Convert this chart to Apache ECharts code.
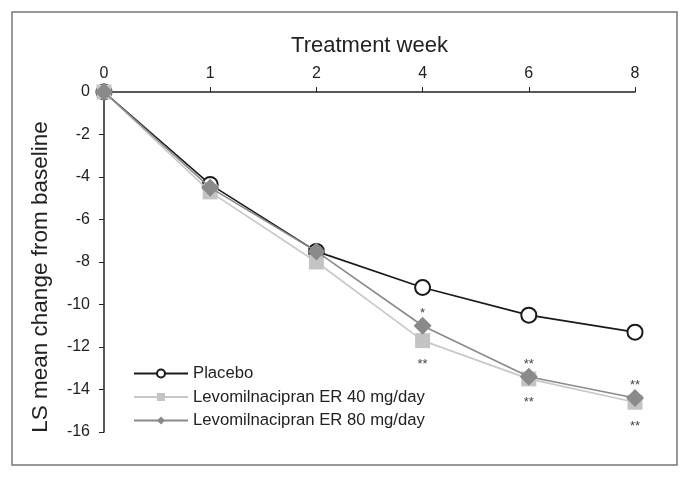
<!DOCTYPE html>
<html><head><meta charset="utf-8">
<script src="https://cdn.jsdelivr.net/npm/echarts@6/dist/echarts.min.js"></script>
<style>html,body{margin:0;padding:0;background:#fff}#c{width:690px;height:479px}</style>
</head><body><div id="c"></div>
<script>
const weeks = ['0', '1', '2', '4', '6', '8'];
const placebo = [0, -4.35, -7.5, -9.2, -10.5, -11.3];
const lev40 = [0, -4.7, -8.0, -11.7, -13.5, -14.6];
const lev80 = [0, -4.5, -7.5, -11.0, -13.4, -14.4];
const sig80 = ['', '', '', '*', '**', '**'];
const sig40 = ['', '', '', '**', '**', '**'];
const yTicks = [0, -2, -4, -6, -8, -10, -12, -14, -16];

const chart = echarts.init(document.getElementById('c'));
const font = 'Liberation Sans, Arial, Helvetica, sans-serif';
chart.setOption({
  backgroundColor: '#fff',
  animation: false,
  textStyle: { fontFamily: font },
  graphic: [
    { type: 'rect', shape: { x: 12, y: 12, width: 665, height: 453 },
      style: { fill: 'none', stroke: '#777', lineWidth: 1.5 }, z: 0 },
    { type: 'text', x: 41, y: 277, rotation: Math.PI / 2,
      style: { text: 'LS mean change from baseline', fontSize: 22.5, fill: '#222',
        fontFamily: font, textAlign: 'center', textVerticalAlign: 'middle' } }
  ],
  grid: { left: 104, right: 55, top: 92, bottom: 47 },
  legend: {
    orient: 'vertical', left: 128, top: 360,
    itemWidth: 54, itemHeight: 10, itemGap: 6.5,
    textStyle: { fontSize: 16.7, color: '#222', fontFamily: font },
    data: ['Placebo', 'Levomilnacipran ER 40 mg/day', 'Levomilnacipran ER 80 mg/day']
  },
  xAxis: {
    type: 'category', data: weeks, position: 'top', boundaryGap: false,
    name: 'Treatment week', nameLocation: 'middle', nameGap: 35, nameMoveOverlap: false,
    nameTextStyle: { fontSize: 22, color: '#222' },
    axisLine: { lineStyle: { color: '#222', width: 1.5 } },
    axisTick: { alignWithLabel: true, length: 5, lineStyle: { color: '#222' } },
    axisLabel: { fontSize: 16, color: '#222', margin: 10 },
    splitLine: { show: false }
  },
  yAxis: {
    type: 'value', min: -16, max: 0, interval: 2,
    axisLine: { show: true, lineStyle: { color: '#222', width: 1.5 } },
    axisTick: { show: true, length: 5, lineStyle: { color: '#222' } },
    axisLabel: { fontSize: 16, color: '#222', margin: 14,
      formatter: v => yTicks.includes(v) ? String(v) : '' },
    splitLine: { show: false }
  },
  series: [
    { name: 'Placebo', type: 'line', data: placebo,
      symbol: 'emptyCircle', symbolSize: 15,
      lineStyle: { color: '#1a1a1a', width: 1.6 },
      itemStyle: { color: '#1a1a1a', borderWidth: 1.6 }, z: 2 },
    { name: 'Levomilnacipran ER 40 mg/day', type: 'line', data: lev40,
      symbol: 'rect', symbolSize: 15,
      lineStyle: { color: '#c8c8c8', width: 1.6 },
      itemStyle: { color: '#c4c4c4' }, z: 3,
      label: { show: true, position: 'bottom', distance: 10, fontSize: 13, color: '#444',
        formatter: p => sig40[p.dataIndex] } },
    { name: 'Levomilnacipran ER 80 mg/day', type: 'line', data: lev80,
      symbol: 'diamond', symbolSize: 18,
      lineStyle: { color: '#8a8a8a', width: 1.6 },
      itemStyle: { color: '#8a8a8a' }, z: 4,
      label: { show: true, position: 'top', distance: -3, fontSize: 13, color: '#444',
        formatter: p => sig80[p.dataIndex] } }
  ]
});
</script></body></html>
